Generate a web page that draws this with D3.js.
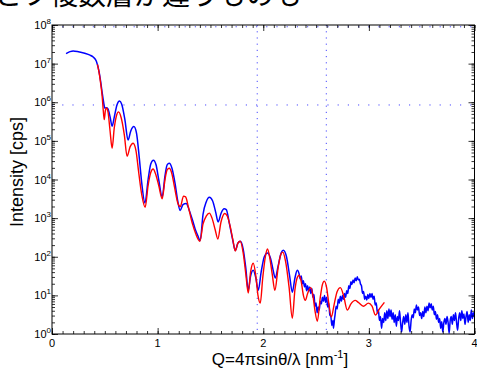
<!DOCTYPE html>
<html>
<head>
<meta charset="utf-8">
<script src="https://cdn.jsdelivr.net/npm/d3@7"></script>
<style>
  body { margin: 0; background: #fff; }
  svg { display: block; }
</style>
</head>
<body>
<div id="chart"></div>
<script>
// measured curve (blue): Q [nm^-1] and log10 of intensity [cps]
const blue_q = [0.133,0.17,0.2,0.25,0.31,0.36,0.39,0.42,0.445,0.46,0.475,0.49,0.50,0.515,0.53,0.55,0.569,0.59,0.615,0.64,0.66,0.69,0.72,0.745,0.775,0.80,0.825,0.85,0.88,0.91,0.935,0.96,0.985,1.01,1.043,1.07,1.09,1.11,1.135,1.165,1.19,1.213,1.24,1.27,1.30,1.33,1.355,1.38,1.403,1.43,1.46,1.49,1.52,1.55,1.573,1.60,1.63,1.65,1.68,1.71,1.735,1.76,1.782,1.81,1.835,1.858,1.88,1.905,1.93,1.953,1.98,2.01,2.04,2.07,2.09,2.114,2.14,2.17,2.19,2.22,2.25,2.275,2.30,2.322,
  2.34,2.35,2.36,2.37,2.38,2.39,2.40,2.41,2.42,2.43,2.44,2.45,2.46,2.47,2.48,2.49,2.50,2.51,2.52,2.53,2.54,2.55,2.56,2.57,2.58,2.59,2.60,2.61,2.62,2.63,2.64,2.65,2.66,2.665,2.675,2.68,2.69,2.70,2.71,2.72,2.73,2.74,2.75,2.76,2.77,2.78,2.79,2.80,2.81,2.82,2.83,2.84,2.85,2.86,2.87,2.88,2.89,2.90,2.91,2.92,2.93,2.94,2.95,2.96,2.97,2.98,2.99,3.00,3.01,3.02,3.03,3.04,3.05,3.06,3.07,3.08,3.09,3.10,3.11,3.12,3.13,3.14,3.15,3.16,3.17,3.18,3.19,3.20,3.21,3.22,3.23,3.24,3.25,3.26,3.27,3.28,3.29,3.30,3.31,3.32,3.33,3.34,3.35,3.36,3.37,3.38,3.39,3.40,3.41,3.42,3.43,3.44,3.45,3.46,3.47,3.48,3.49,3.50,3.51,3.52,3.53,3.54,3.55,3.56,3.57,3.58,3.59,3.60,3.61,3.62,3.63,3.64,3.65,3.66,3.67,3.68,3.69,3.70,3.71,3.72,3.73,3.74,3.75,3.76,3.77,3.78,3.79,3.80,3.81,3.82,3.83,3.84,3.85,3.86,3.87,3.88,3.89,3.90,3.91,3.92,3.93,3.94,3.95,3.96,3.97,3.98,3.99,4.00];
const blue_log_cps = [7.26,7.31,7.33,7.31,7.27,7.22,7.17,7.06,6.80,6.55,6.25,5.98,5.85,5.86,5.83,5.62,5.38,5.62,5.93,6.03,5.95,5.55,5.02,5.25,5.37,5.2,4.6,3.9,3.39,4.0,4.4,4.5,4.38,4.0,3.55,4.1,4.38,4.42,4.3,3.9,3.45,3.2,3.35,3.38,3.2,2.95,2.72,2.55,2.42,3.1,3.42,3.54,3.45,3.15,2.9,3.12,3.24,3.22,2.85,2.45,2.16,2.35,2.40,2.2,1.7,1.13,1.5,1.65,1.45,1.13,1.6,2.0,2.1,1.95,1.7,1.45,1.75,2.1,2.17,2.0,1.5,1.08,1.45,1.65,
  1.55,1.42,1.50,1.30,1.38,1.22,1.30,1.12,1.25,1.10,1.22,1.05,1.18,0.95,1.02,0.72,0.80,0.55,0.70,0.62,0.85,0.78,0.95,0.85,1.00,0.82,0.95,0.70,0.80,0.50,0.45,0.22,0.35,0.15,0.40,0.50,0.72,0.65,0.90,0.80,0.98,0.85,1.00,0.90,1.05,0.95,1.12,1.05,1.25,1.18,1.35,1.28,1.40,1.33,1.45,1.38,1.48,1.40,1.42,1.30,1.25,1.05,1.10,0.90,0.98,0.88,1.02,0.92,1.05,0.95,1.05,0.90,0.98,0.75,0.80,0.55,0.62,0.35,0.45,0.15,0.40,0.30,0.55,0.35,0.60,0.40,0.65,0.45,0.62,0.38,0.55,0.30,0.50,0.20,0.45,0.35,0.60,0.30,0.05,0.30,0.45,0.25,0.50,0.30,0.55,0.20,0.05,0.35,0.50,0.42,0.65,0.55,0.75,0.62,0.70,0.48,0.55,0.40,0.58,0.45,0.70,0.55,0.72,0.60,0.80,0.68,0.78,0.62,0.72,0.50,0.58,0.38,0.50,0.30,0.40,0.15,0.32,0.05,0.30,0.40,0.25,0.45,0.30,0.02,0.35,0.45,0.25,0.50,0.35,0.55,0.30,0.10,0.40,0.55,0.35,0.60,0.40,0.52,0.25,0.45,0.58,0.30,0.50,0.35,0.62,0.40,0.55,0.45];

// simulated curve (red)
const red_q = [0.43,0.445,0.46,0.475,0.485,0.495,0.505,0.515,0.53,0.55,0.569,0.59,0.61,0.63,0.655,0.685,0.711,0.74,0.768,0.795,0.82,0.85,0.882,0.91,0.935,0.957,0.98,1.01,1.043,1.07,1.09,1.11,1.135,1.16,1.19,1.215,1.245,1.265,1.29,1.33,1.36,1.40,1.43,1.46,1.49,1.515,1.545,1.57,1.60,1.635,1.66,1.69,1.715,1.735,1.76,1.782,1.81,1.835,1.858,1.88,1.905,1.93,1.95,1.972,1.995,2.02,2.04,2.06,2.085,2.11,2.14,2.165,2.185,2.21,2.245,2.275,2.30,2.325,2.34,2.36,2.38,2.398,2.42,2.45,2.47,2.49,2.512,2.54,2.56,2.578,2.60,2.62,2.645,2.67,2.70,2.73,2.76,2.796,2.83,2.87,2.90,2.948,2.995,3.03,3.062,3.10,3.147];
const red_log_cps = [6.98,6.78,6.50,6.15,5.80,5.55,5.78,5.85,5.75,5.25,4.81,5.35,5.65,5.75,5.6,5.15,4.6,4.85,4.94,4.75,4.2,3.6,3.28,3.85,4.18,4.27,4.15,3.85,3.5,4.0,4.25,4.29,4.15,3.8,3.4,3.3,3.57,3.55,3.3,2.85,2.6,2.4,2.85,3.05,3.13,3.0,2.7,2.46,2.9,3.12,3.05,2.75,2.4,2.15,2.35,2.40,2.1,1.55,1.06,1.6,1.83,1.5,1.0,0.8,1.45,2.0,2.2,2.0,1.55,1.13,1.7,2.05,2.12,1.9,1.2,0.41,1.15,1.48,1.52,1.35,1.0,0.87,1.05,1.2,1.0,0.6,0.33,0.95,1.28,1.37,1.2,0.8,0.44,0.75,1.1,1.2,1.0,0.62,0.78,0.87,0.82,0.72,0.80,0.72,0.49,0.65,0.82];

// dotted guide lines
const guide_q = [1.943, 2.597];
const guide_cps = [8.5e5, 9e7];

const x_major_ticks = [0, 1, 2, 3, 4];
const y_exponents = [0, 1, 2, 3, 4, 5, 6, 7, 8];

const title_text = "とフ複数層が違うものも";
const x_label = "Q=4πsinθ/λ [nm";
const y_label = "Intensity [cps]";

class Reflectivity_Plot {
    constructor(parent_element) {
        this.parent_element = parent_element;
        this.blue = blue_q.map((q, i) => ({q: q, cps: Math.pow(10, blue_log_cps[i])}));
        this.red = red_q.map((q, i) => ({q: q, cps: Math.pow(10, red_log_cps[i])}));
        this.initVis();
    }

    initVis() {
        this.width = 477;
        this.height = 373;
        this.left = 52; this.right = 474.5; this.top = 25; this.bottom = 334;

        this.svg = d3.select("#" + this.parent_element)
            .append("svg")
            .attr("width", this.width)
            .attr("height", this.height);

        // heading, cut off at the top edge as in the screenshot
        this.svg.append("text")
            .attr("x", -6)
            .attr("y", 5)
            .attr("font-family", "'Noto Sans CJK JP', sans-serif")
            .attr("font-size", "28px")
            .attr("fill", "black")
            .text(title_text);

        this.x = d3.scaleLinear().domain([0, 4]).range([this.left, this.right]);
        this.y = d3.scaleLog().domain([1, 1e8]).range([this.bottom, this.top]);

        this.svg.append("clipPath").attr("id", "plot-clip")
            .append("rect")
            .attr("x", this.left).attr("y", this.top)
            .attr("width", this.right - this.left)
            .attr("height", this.bottom - this.top);

        this.updateVis();
    }

    updateVis() {
        const x = this.x, y = this.y;
        const plot = this.svg.append("g").attr("clip-path", "url(#plot-clip)");

        // dotted guides
        plot.selectAll(".vguide")
            .data(guide_q)
            .join("line")
            .attr("x1", d => x(d)).attr("x2", d => x(d))
            .attr("y1", this.top).attr("y2", this.bottom)
            .attr("stroke", "#4a4aff")
            .attr("stroke-width", 1)
            .attr("stroke-dasharray", "1.2,5");

        plot.selectAll(".hguide")
            .data(guide_cps)
            .join("line")
            .attr("x1", this.left).attr("x2", this.right)
            .attr("y1", d => y(d)).attr("y2", d => y(d))
            .attr("stroke", "#4a4aff")
            .attr("stroke-width", 1)
            .attr("stroke-dasharray", "1.2,9");

        const line = d3.line()
            .x(d => x(d.q))
            .y(d => y(d.cps))
            .curve(d3.curveMonotoneX);

        plot.append("path")
            .datum(this.blue)
            .attr("d", line)
            .attr("fill", "none")
            .attr("stroke", "#0000ff")
            .attr("stroke-width", 1.5);

        plot.append("path")
            .datum(this.red)
            .attr("d", line)
            .attr("fill", "none")
            .attr("stroke", "#ff0000")
            .attr("stroke-width", 1.4);

        // ticks (inward, on all four sides)
        const x_minor = d3.range(0, 41).map(i => i / 10);
        const y_minor = y.ticks();

        const strip = g => { g.select(".domain").remove(); g.selectAll("text").remove(); };

        this.svg.append("g").attr("transform", `translate(0,${this.bottom})`)
            .call(d3.axisBottom(x).tickValues(x_minor).tickSize(-3)).call(strip);
        this.svg.append("g").attr("transform", `translate(0,${this.bottom})`)
            .call(d3.axisBottom(x).tickValues(x_major_ticks).tickSize(-6)).call(strip);
        this.svg.append("g").attr("transform", `translate(0,${this.top})`)
            .call(d3.axisTop(x).tickValues(x_minor).tickSize(-3)).call(strip);
        this.svg.append("g").attr("transform", `translate(0,${this.top})`)
            .call(d3.axisTop(x).tickValues(x_major_ticks).tickSize(-6)).call(strip);

        this.svg.append("g").attr("transform", `translate(${this.left},0)`)
            .call(d3.axisLeft(y).tickValues(y_minor).tickSize(-3)).call(strip);
        this.svg.append("g").attr("transform", `translate(${this.left},0)`)
            .call(d3.axisLeft(y).tickValues(y_exponents.map(e => Math.pow(10, e))).tickSize(-6)).call(strip);
        this.svg.append("g").attr("transform", `translate(${this.right},0)`)
            .call(d3.axisRight(y).tickValues(y_minor).tickSize(-3)).call(strip);
        this.svg.append("g").attr("transform", `translate(${this.right},0)`)
            .call(d3.axisRight(y).tickValues(y_exponents.map(e => Math.pow(10, e))).tickSize(-6)).call(strip);

        this.svg.selectAll(".tick line").attr("stroke", "black").attr("stroke-width", 0.8);

        // box
        this.svg.append("rect")
            .attr("x", this.left).attr("y", this.top)
            .attr("width", this.right - this.left)
            .attr("height", this.bottom - this.top)
            .attr("fill", "none")
            .attr("stroke", "black")
            .attr("stroke-width", 1);

        // x tick labels
        this.svg.append("g").selectAll("text")
            .data(x_major_ticks)
            .join("text")
            .attr("x", d => x(d))
            .attr("y", this.bottom + 13)
            .attr("text-anchor", "middle")
            .attr("font-family", "'Liberation Sans', Arial, sans-serif")
            .attr("font-size", "11px")
            .text(d => d);

        // y tick labels 10^n
        const ylab = this.svg.append("g").selectAll("text")
            .data(y_exponents)
            .join("text")
            .attr("x", this.left - 1)
            .attr("y", d => y(Math.pow(10, d)) + 4)
            .attr("text-anchor", "end")
            .attr("font-family", "'Liberation Sans', Arial, sans-serif")
            .attr("font-size", "11px");
        ylab.append("tspan").text("10");
        ylab.append("tspan").attr("dy", -5).attr("font-size", "8px").text(d => d);

        // axis titles
        const xl = this.svg.append("text")
            .attr("x", 280)
            .attr("y", 365)
            .attr("text-anchor", "middle")
            .attr("font-family", "'Liberation Sans', Arial, sans-serif")
            .attr("font-size", "17px")
            .text(x_label);
        xl.append("tspan").attr("dy", -7).attr("font-size", "11px").text("-1");
        xl.append("tspan").attr("dy", 7).text("]");

        this.svg.append("text")
            .attr("transform", "translate(23,172) rotate(-90)")
            .attr("text-anchor", "middle")
            .attr("font-family", "'Liberation Sans', Arial, sans-serif")
            .attr("font-size", "18px")
            .text(y_label);
    }
}

new Reflectivity_Plot("chart");
</script>
</body>
</html>
